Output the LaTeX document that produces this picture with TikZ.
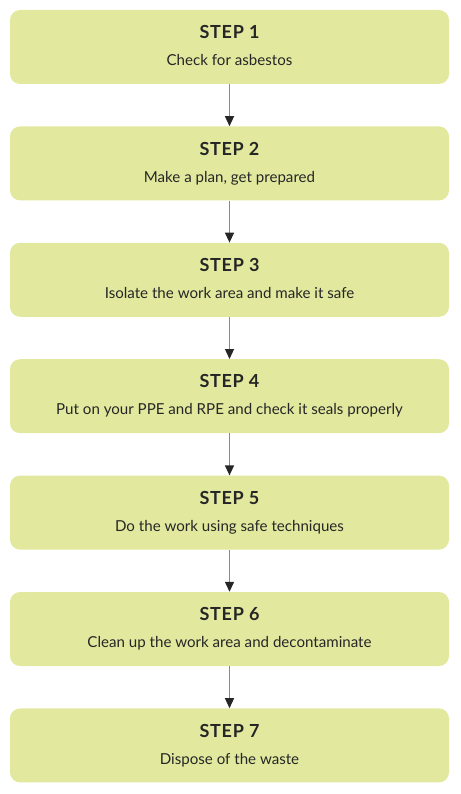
\documentclass[tikz,border=0pt]{standalone}
\usepackage{fontspec}
\setmainfont{Lato}
\usetikzlibrary{positioning,arrows.meta}
\definecolor{stepgreen}{HTML}{E2E99E}
\definecolor{steptext}{HTML}{262626}
\definecolor{steplink}{HTML}{8A8A8A}
\tikzset{
  stepbox/.style={fill=stepgreen, rounded corners=10pt, minimum width=439pt,
    minimum height=74pt, inner sep=0pt, align=center, text=steptext,
    font=\fontsize{15.1}{17}\selectfont},
  steparrow/.style={draw=steplink, line width=1.3pt,
    -{Triangle[length=10pt,width=9pt,color=steptext]}}
}
% title line and text line of one step
\newcommand{\steptext}[2]{{\bfseries\fontsize{18}{20}\selectfont\addfontfeatures{LetterSpace=4}#1}\\[10pt]#2\vphantom{gy}}
\begin{document}
\begin{tikzpicture}[x=1pt,y=1pt]
\useasboundingbox (0,0) rectangle (460,-794);
\node[stepbox] (s1) at (229.5,-47) {\steptext{STEP 1}{Check for asbestos}};
\node[stepbox, below=42pt of s1] (s2) {\steptext{STEP 2}{Make a plan, get prepared}};
\node[stepbox, below=42pt of s2] (s3) {\steptext{STEP 3}{Isolate the work area and make it safe}};
\node[stepbox, below=42pt of s3] (s4) {\steptext{STEP 4}{Put on your PPE and RPE and check it seals properly}};
\node[stepbox, below=42pt of s4] (s5) {\steptext{STEP 5}{Do the work using safe techniques}};
\node[stepbox, below=42pt of s5] (s6) {\steptext{STEP 6}{Clean up the work area and decontaminate}};
\node[stepbox, below=42pt of s6] (s7) {\steptext{STEP 7}{Dispose of the waste}};
\foreach \a/\b in {s1/s2,s2/s3,s3/s4,s4/s5,s5/s6,s6/s7}
  \draw[steparrow] (\a) -- (\b);
\end{tikzpicture}
\end{document}
